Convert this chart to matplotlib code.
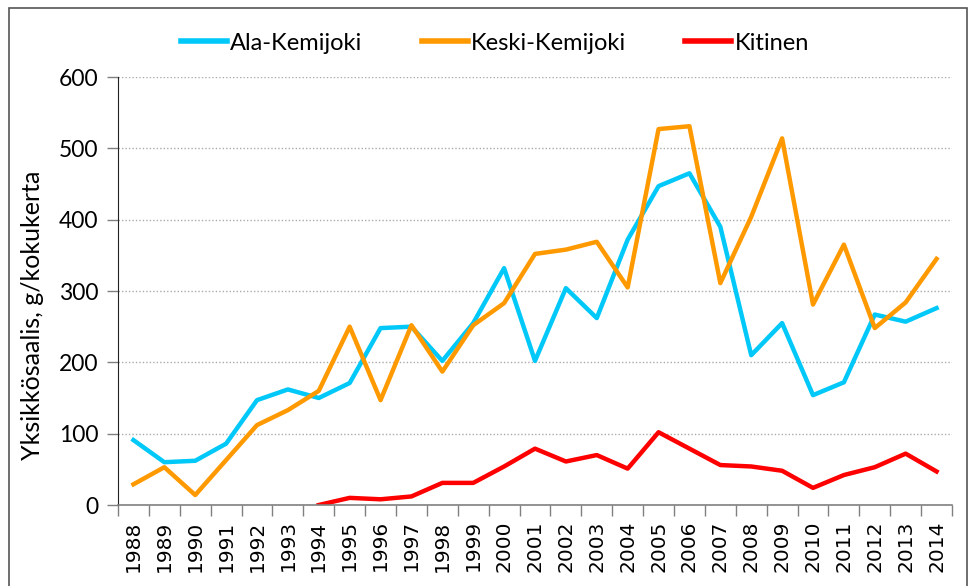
import matplotlib.pyplot as plt
from matplotlib.patches import Rectangle

years = [str(y) for y in range(1988, 2015)]

ala_kemijoki = [91, 60, 62, 86, 147, 162, 150, 171, 248, 250, 202, 255, 332, 202,
                304, 262, 372, 447, 465, 390, 210, 255, 154, 172, 267, 257, 276]
keski_kemijoki = [29, 53, 14, 63, 112, 133, 160, 250, 147, 252, 187, 252, 283, 352,
                  358, 369, 305, 527, 531, 311, 404, 514, 281, 365, 248, 284, 345]
# Kitinen alkaa vasta 1994
kitinen_years = years[6:]
kitinen = [0, 10, 8, 12, 31, 31, 54, 79, 61, 70, 51, 102, 79, 56, 54, 48, 24, 42,
           53, 72, 47]

fig = plt.figure(figsize=(9.71, 5.86), dpi=100)
ax = fig.add_axes([118 / 971, 1 - 505 / 586, (952 - 118) / 971, (505 - 77) / 586])

# kehys kuvan ympärillä
fig.patches.append(Rectangle((9 / 971, -0.01), (967 - 9) / 971, 1 - 8 / 586 + 0.01,
                             transform=fig.transFigure, fill=False,
                             edgecolor='#555555', linewidth=1.2))

x = list(range(len(years)))
kx = [years.index(y) for y in kitinen_years]

ax.plot(x, ala_kemijoki, color='#00C8F8', lw=3.2, label='Ala-Kemijoki')
ax.plot(x, keski_kemijoki, color='#FF9900', lw=3.2, label='Keski-Kemijoki')
ax.plot(kx, kitinen, color='#FF0000', lw=3.2, label='Kitinen')

ax.set_xlim(-0.5, len(years) - 0.5)
ax.set_ylim(0, 600)
ax.set_yticks(range(0, 601, 100))
ax.set_xticks(x)
ax.set_xticklabels(years, rotation=90, fontsize=14.5, family='DejaVu Sans')
ax.set_xticks([i - 0.5 for i in range(len(years) + 1)], minor=True)
ax.tick_params(axis='x', which='major', length=0, pad=11)
ax.tick_params(axis='x', which='minor', length=8, color='#808080', width=1)
ax.tick_params(axis='y', length=8, color='#808080', width=1, labelsize=16.5, pad=6)
for lbl in ax.get_yticklabels():
    lbl.set_family('Lato')

ax.grid(axis='y', linestyle=(0, (1, 1.5)), color='#AAAAAA', linewidth=1)
ax.set_axisbelow(True)
for s in ['top', 'right']:
    ax.spines[s].set_visible(False)
ax.spines['left'].set_color('#222222')
ax.spines['bottom'].set_color('#808080')
ax.spines['bottom'].set_linewidth(1.2)

ax.set_ylabel('Yksikkösaalis, g/kokukerta', fontsize=18, family='Lato',
              va='center')
ax.yaxis.set_label_coords((33 - 118) / 834, (505 - 315) / 428)

leg = fig.legend(loc='center', bbox_to_anchor=(495 / 971, 1 - 43 / 586), ncol=3,
                 frameon=False, handlelength=1.95, handletextpad=0.15,
                 columnspacing=2.5, prop={'family': 'Lato', 'size': 17})
for h in leg.get_lines():
    h.set_linewidth(4)

fig.savefig('out.png', dpi=100)
